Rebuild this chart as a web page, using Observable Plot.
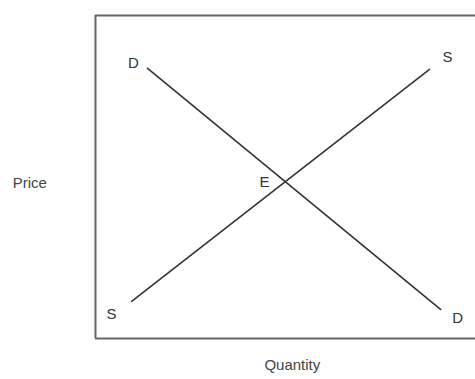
<!DOCTYPE html>
<html>
<head>
<meta charset="utf-8">
<script src="https://cdn.jsdelivr.net/npm/d3@7"></script>
<script src="https://cdn.jsdelivr.net/npm/@observablehq/plot@0.6"></script>
<style>
  html, body { margin: 0; padding: 0; background: #fff; }
  #chart svg { display: block; }
</style>
</head>
<body>
<div id="chart"></div>
<script>
// Demand and supply curves (quantity, price), in an abstract 0–10 space
const demandQ = [1.37, 9.08];
const demandP = [8.36, 0.90];
const supplyQ = [0.95, 8.79];
const supplyP = [1.15, 8.33];

// Curve labels
const labelText = ["D", "S", "E", "S", "D"];
const labelQ    = [1.00, 9.26, 4.45, 0.42, 9.53];
const labelP    = [8.51, 8.70, 4.83, 0.74, 0.62];

// Axis titles
const xTitle = "Quantity";
const yTitle = "Price";

const demand = demandQ.map((q, i) => ({q, p: demandP[i]}));
const supply = supplyQ.map((q, i) => ({q, p: supplyP[i]}));
const labels = labelText.map((t, i) => ({t, q: labelQ[i], p: labelP[i]}));

const font = "Liberation Sans, Arial, Helvetica, sans-serif";

const chart = Plot.plot({
  width: 475,
  height: 379,
  marginLeft: 95,
  marginRight: 0,
  marginTop: 15,
  marginBottom: 41,
  style: {fontFamily: font, background: "#fff"},
  x: {domain: [0, 10], axis: null},
  y: {domain: [0, 10], axis: null},
  marks: [
    Plot.ruleY([0, 10], {stroke: "#666", strokeWidth: 2}),
    Plot.ruleX([0], {stroke: "#666", strokeWidth: 2}),
    Plot.line(demand, {x: "q", y: "p", stroke: "#333", strokeWidth: 1.6}),
    Plot.line(supply, {x: "q", y: "p", stroke: "#333", strokeWidth: 1.6}),
    Plot.text(labels, {x: "q", y: "p", text: "t", fill: "#333", fontSize: 15}),
    Plot.text([yTitle], {x: -2.18, y: 4.81, text: d => d, textAnchor: "start", fill: "#444", fontSize: 15}),
    Plot.text([xTitle], {x: 5.18, frameAnchor: "bottom", dy: 31, text: d => d, fill: "#444", fontSize: 15})
  ]
});
document.getElementById("chart").appendChild(chart);
</script>
</body>
</html>
